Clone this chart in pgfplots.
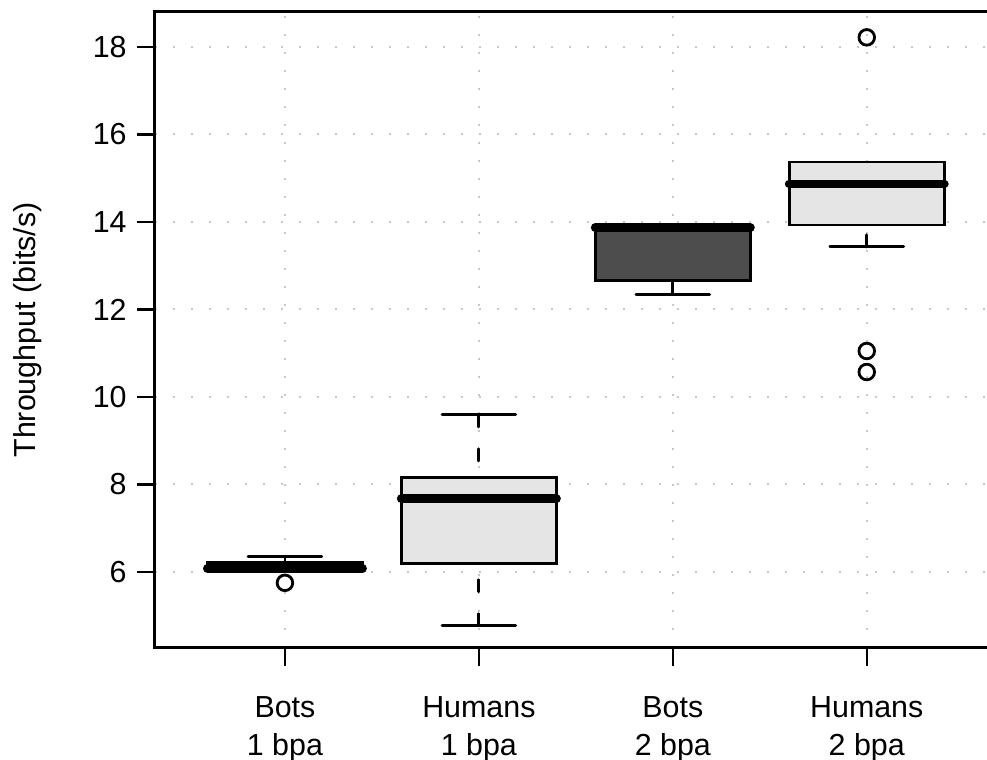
\documentclass[border=0pt]{standalone}
\usepackage{fontspec}
\setmainfont{Liberation Sans}
\usepackage{pgfplots}
\pgfplotsset{compat=1.18}
\definecolor{boxlight}{HTML}{E5E5E5}
\definecolor{boxdark}{HTML}{4D4D4D}
\definecolor{gridc}{HTML}{C8C8C8}
\begin{document}
\begin{tikzpicture}
\begin{axis}[
  scale only axis, width=416pt, height=318pt,
  xmin=0.33, xmax=4.62, ymin=4.26, ymax=18.8,
  axis line style={draw=none},
  xtick={1,2,3,4},
  xticklabels={{Bots\\1 bpa},{Humans\\1 bpa},{Bots\\2 bpa},{Humans\\2 bpa}},
  ytick={6,8,10,12,14,16,18},
  xtick pos=bottom, ytick pos=left,
  tick align=outside,
  major tick length=9pt,
  tick style={black, line width=1.2pt},
  grid=major,
  major grid style={gridc, line width=1pt, dash pattern=on 1pt off 8pt},
  /pgf/number format/assume math mode=true,
  ticklabel style={font=\fontsize{15.2}{19}\selectfont},
  xticklabel style={align=center, inner sep=0pt, yshift=-15pt},
  yticklabel style={inner sep=0pt, xshift=-5pt},
  ylabel={Throughput (bits/s)},
  ylabel style={font=\fontsize{15.2}{18}\selectfont, at={([xshift=-63.5pt]rel axis cs:0,0.5)}, anchor=center},
  clip=false,
]
% ---------- Bots 1 bpa ----------
\addplot[black, line width=1.4pt, line cap=round, dash pattern=on 6pt off 11pt] coordinates {(1,6.36) (1,6.21)};
\addplot[black, line width=1.4pt, line cap=round] coordinates {(0.81,6.36) (1.19,6.36)};
\addplot[black, line width=1.4pt, line cap=round] coordinates {(0.81,6.04) (1.19,6.04)};
\addplot[draw=black, fill=boxlight, line width=1.4pt] coordinates {(0.6,6.04) (1.4,6.04) (1.4,6.21) (0.6,6.21)} -- cycle;
\addplot[black, line width=4.4pt, line cap=round] coordinates {(0.6,6.08) (1.4,6.08)};
\addplot[only marks, mark=o, mark size=3.9pt, mark options={line width=1.4pt, black}] coordinates {(1,5.75)};
% ---------- Humans 1 bpa ----------
\addplot[black, line width=1.4pt, line cap=round, dash pattern=on 6pt off 11pt] coordinates {(2,9.59) (2,8.15)};
\addplot[black, line width=1.4pt, line cap=round, dash pattern=on 6pt off 11pt] coordinates {(2,4.77) (2,6.2)};
\addplot[black, line width=1.4pt, line cap=round] coordinates {(1.81,9.59) (2.19,9.59)};
\addplot[black, line width=1.4pt, line cap=round] coordinates {(1.81,4.77) (2.19,4.77)};
\addplot[draw=black, fill=boxlight, line width=1.4pt] coordinates {(1.6,6.2) (2.4,6.2) (2.4,8.15) (1.6,8.15)} -- cycle;
\addplot[black, line width=4.4pt, line cap=round] coordinates {(1.6,7.67) (2.4,7.67)};
% ---------- Bots 2 bpa ----------
\addplot[black, line width=1.4pt, line cap=round, dash pattern=on 6pt off 11pt] coordinates {(3,12.35) (3,12.67)};
\addplot[black, line width=1.4pt, line cap=round] coordinates {(2.81,12.35) (3.19,12.35)};
\addplot[black, line width=1.4pt, line cap=round] coordinates {(2.81,13.9) (3.19,13.9)};
\addplot[draw=black, fill=boxdark, line width=1.4pt] coordinates {(2.6,12.67) (3.4,12.67) (3.4,13.9) (2.6,13.9)} -- cycle;
\addplot[black, line width=4.4pt, line cap=round] coordinates {(2.6,13.87) (3.4,13.87)};
% ---------- Humans 2 bpa ----------
\addplot[black, line width=1.4pt, line cap=round, dash pattern=on 6pt off 11pt] coordinates {(4,13.43) (4,13.93)};
\addplot[black, line width=1.4pt, line cap=round] coordinates {(3.81,13.43) (4.19,13.43)};
\addplot[black, line width=1.4pt, line cap=round] coordinates {(3.81,15.37) (4.19,15.37)};
\addplot[draw=black, fill=boxlight, line width=1.4pt] coordinates {(3.6,13.93) (4.4,13.93) (4.4,15.37) (3.6,15.37)} -- cycle;
\addplot[black, line width=4.4pt, line cap=round] coordinates {(3.6,14.87) (4.4,14.87)};
\addplot[only marks, mark=o, mark size=3.9pt, mark options={line width=1.4pt, black}] coordinates {(4,18.22) (4,11.05) (4,10.57)};
% ---------- frame ----------
\draw[black, line width=1.5pt, line join=miter] (rel axis cs:1,1) -- (rel axis cs:0,1) -- (rel axis cs:0,0) -- (rel axis cs:1,0);
\end{axis}
\pgfresetboundingbox
\useasboundingbox (-77.5pt,-56pt) rectangle (416pt,324pt);
\end{tikzpicture}
\end{document}
